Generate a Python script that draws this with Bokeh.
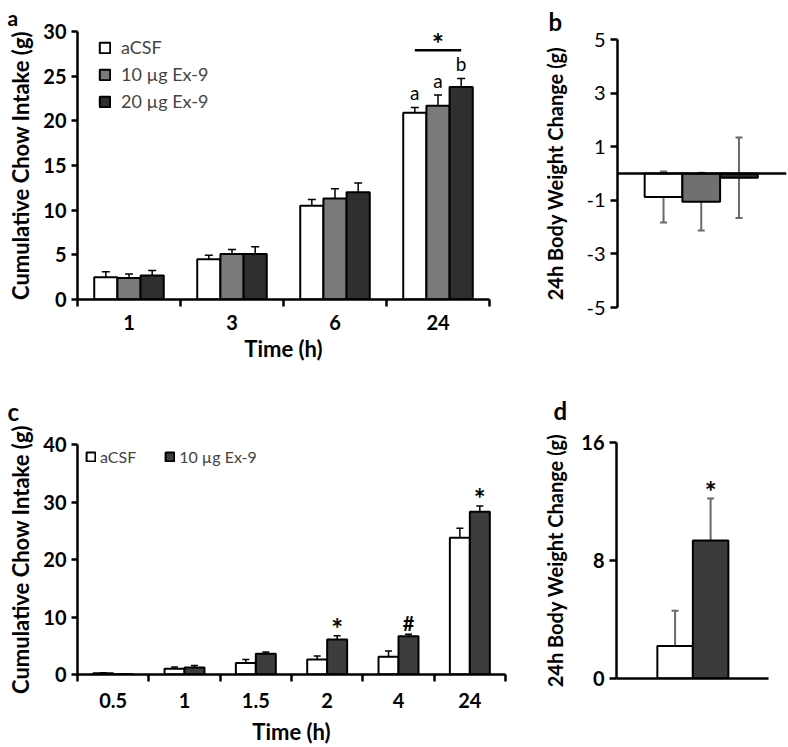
from bokeh.plotting import figure
from bokeh.layouts import column, row
from bokeh.models import (ColumnDataSource, Range1d, FixedTicker, Whisker, TeeHead,
                          Legend, LegendItem, Title, Span)
from bokeh.core.properties import value
from bokeh.embed import file_html
from bokeh.resources import INLINE

FONT = "Lato"

# ---------------- data ----------------
# Panel a
a_times = ["1", "3", "6", "24"]
a_groups = ["aCSF", "10 µg Ex-9", "20 µg Ex-9"]
a_acsf = [2.5, 4.5, 10.5, 20.9]
a_acsf_err = [0.6, 0.45, 0.7, 0.6]
a_ex10 = [2.4, 5.1, 11.3, 21.7]
a_ex10_err = [0.45, 0.5, 1.1, 1.2]
a_ex20 = [2.7, 5.1, 12.0, 23.8]
a_ex20_err = [0.55, 0.8, 1.05, 0.95]
a_letters_24 = ["a", "a", "b"]
a_sig_y = 27.9
a_yticks = [0, 5, 10, 15, 20, 25, 30]

# Panel b
b_groups = ["aCSF", "10 µg Ex-9", "20 µg Ex-9"]
b_change = [-0.88, -1.05, -0.16]
b_err = [0.95, 1.08, 1.5]
b_yticks = [-5, -3, -1, 1, 3, 5]

# Panel c
c_times = ["0.5", "1", "1.5", "2", "4", "24"]
c_groups = ["aCSF", "10 µg Ex-9"]
c_acsf = [0.2, 1.0, 2.0, 2.6, 3.1, 23.8]
c_acsf_err = [0.1, 0.3, 0.6, 0.6, 1.0, 1.65]
c_ex = [0.05, 1.2, 3.6, 6.1, 6.65, 28.3]
c_ex_err = [0.0, 0.35, 0.3, 0.65, 0.35, 1.0]
c_marks = ["", "", "", "*", "#", "*"]
c_yticks = [0, 10, 20, 30, 40]

# Panel d
d_groups = ["aCSF", "10 µg Ex-9"]
d_change = [2.2, 9.35]
d_err = [2.4, 2.85]
d_marks = ["", "*"]
d_yticks = [0, 8, 16]

# ---------------- helpers ----------------
def make_fig(fw, fh, bl, br, bt, bb, xr, yr):
    p = figure(frame_width=fw, frame_height=fh,
               min_border_left=bl, min_border_right=br,
               min_border_top=bt, min_border_bottom=bb,
               x_range=xr, y_range=yr, output_backend="svg",
               toolbar_location=None, outline_line_color=None)
    p.frame_align = False
    p.xgrid.grid_line_color = None
    p.ygrid.grid_line_color = None
    return p


def style_yaxis(ax, ticks, tick_bold=True, tick_size="20px", label_size="22px"):
    ax.ticker = FixedTicker(ticks=ticks)
    ax.major_label_overrides = {t: str(t) for t in ticks}
    ax.axis_line_width = 2.5
    ax.axis_line_color = "black"
    ax.major_tick_line_width = 2.5
    ax.major_tick_line_color = "black"
    ax.major_tick_out = 6
    ax.major_tick_in = 0
    ax.minor_tick_line_color = None
    ax.major_label_text_font = FONT
    ax.major_label_text_font_size = tick_size
    ax.major_label_text_font_style = "bold" if tick_bold else "normal"
    ax.major_label_text_color = "black"
    ax.major_label_standoff = 5
    ax.axis_label_text_font = FONT
    ax.axis_label_text_font_size = label_size
    ax.axis_label_text_font_style = "bold"
    ax.axis_label_text_color = "black"


def style_xaxis_cat(ax, n, labels, tick_size="20px", label_size="22px"):
    centers = [i + 0.5 for i in range(n)]
    bounds = [i for i in range(n + 1)]
    ax.ticker = FixedTicker(ticks=centers, minor_ticks=bounds)
    ax.major_label_overrides = {c: l for c, l in zip(centers, labels)}
    ax.axis_line_width = 2.5
    ax.axis_line_color = "black"
    ax.major_tick_line_color = None
    ax.major_tick_out = 0
    ax.major_tick_in = 0
    ax.minor_tick_line_color = "black"
    ax.minor_tick_line_width = 2.5
    ax.minor_tick_out = 7
    ax.minor_tick_in = 0
    ax.major_label_text_font = FONT
    ax.major_label_text_font_size = tick_size
    ax.major_label_text_font_style = "bold"
    ax.major_label_text_color = "black"
    ax.major_label_standoff = 8
    ax.axis_label_text_font = FONT
    ax.axis_label_text_font_size = label_size
    ax.axis_label_text_font_style = "bold"
    ax.axis_label_text_color = "black"
    ax.axis_label_standoff = 2


def panel_letter(p, text, offset, standoff, size):
    p.add_layout(Title(text=text, align="left", offset=offset, standoff=standoff,
                       vertical_align="top", text_font=FONT, text_font_style="bold",
                       text_font_size=size, text_color="black"), "above")


def whiskers(p, xs, lo, hi, color="black", lw=1.5, head=8):
    src = ColumnDataSource(dict(x=xs, lower=lo, upper=hi))
    w = Whisker(source=src, base="x", lower="lower", upper="upper", dimension="height",
                line_color=color, line_width=lw,
                upper_head=TeeHead(size=head, line_color=color, line_width=lw),
                lower_head=TeeHead(size=head, line_color=color, line_width=lw))
    p.add_layout(w)


def mark_offsets(marks):
    return [9 if m == "*" else 1 for m in marks]


def mark_sizes(marks):
    return ["28px" if m == "*" else "20px" for m in marks]

# ---------------- panel a ----------------
A_BL, A_FW, A_BR, A_BT, A_FH, A_BB = 77, 412, 51, 31, 268, 76
a_xr, a_yr = Range1d(0, len(a_times)), Range1d(0, 30)
pa = make_fig(A_FW, A_FH, A_BL, A_BR, A_BT, A_BB, a_xr, a_yr)
bw_a = 0.225
a_series = [(a_acsf, a_acsf_err, "#ffffff"), (a_ex10, a_ex10_err, "#7a7a7a"),
            (a_ex20, a_ex20_err, "#2f2f2f")]
a_rends = []
for j, (vals, errs, col) in enumerate(a_series):
    xs = [i + 0.5 + (j - 1) * bw_a for i in range(len(a_times))]
    r = pa.vbar(x=xs, top=vals, width=bw_a, bottom=0, fill_color=col,
                line_color="black", line_width=2)
    a_rends.append(r)
    whiskers(pa, xs, [v - e for v, e in zip(vals, errs)], [v + e for v, e in zip(vals, errs)])
style_yaxis(pa.yaxis[0], a_yticks)
pa.yaxis.axis_label = "Cumulative Chow Intake (g)"
pa.yaxis.axis_label_standoff = 6
style_xaxis_cat(pa.xaxis[0], len(a_times), a_times)
pa.xaxis.axis_label = "Time (h)"

# letters above 24 h bars
last = len(a_times) - 1
lx = [last + 0.5 + (j - 1) * bw_a for j in range(3)]
ly = [s[0][last] + s[1][last] for s in a_series]
pa.text(x=lx, y=ly, text=a_letters_24, text_font=value(FONT), text_font_size="19px",
        text_align="center", text_baseline="bottom", y_offset=-3, text_color="black")
# significance bar
pa.segment(x0=[lx[0]], x1=[lx[2]], y0=[a_sig_y], y1=[a_sig_y], line_color="black", line_width=2.5)
pa.text(x=[(lx[0] + lx[2]) / 2], y=[a_sig_y], text=["*"], text_font=value(FONT),
        text_font_size="28px", text_font_style="bold", text_align="center",
        text_baseline="middle", y_offset=-7, text_color="black")

legend_a = Legend(items=[LegendItem(label=g, renderers=[r]) for g, r in zip(a_groups, a_rends)],
                  location=(21, 187), glyph_width=13, glyph_height=13, label_height=13,
                  label_standoff=10, spacing=5, padding=0, margin=0,
                  label_text_font=FONT, label_text_font_size="18px",
                  border_line_color=None, background_fill_alpha=0)
pa.add_layout(legend_a)
panel_letter(pa, "a", -70, 0, "21px")

# ---------------- panel b ----------------
B_BL, B_FW, B_BR, B_BT, B_FH, B_BB = 77, 169, 2, 39, 268, 68
b_xr, b_yr = Range1d(-1.22, 3.26), Range1d(-5, 5)
pb = make_fig(B_FW, B_FH, B_BL, B_BR, B_BT, B_BB, b_xr, b_yr)
b_cols = ["#ffffff", "#707070", "#2a2a2a"]
bx = list(range(len(b_groups)))
pb.vbar(x=bx, top=0, bottom=b_change, width=1.0, fill_color=b_cols,
        line_color="black", line_width=2)
pb.add_layout(Span(location=0, dimension="width", line_color="black", line_width=2.5))
whiskers(pb, bx, [v - e for v, e in zip(b_change, b_err)], [v + e for v, e in zip(b_change, b_err)],
         color="#6a6a6a", lw=2, head=7)
style_yaxis(pb.yaxis[0], b_yticks, tick_bold=False, tick_size="20px", label_size="20px")
pb.yaxis.major_tick_out = 7
pb.yaxis.axis_label = "24h Body Weight Change (g)"
pb.yaxis.axis_label_standoff = 16
pb.xaxis.visible = False
panel_letter(pb, "b", -69, 4, "24px")

# ---------------- panel c ----------------
C_BL, C_FW, C_BR, C_BT, C_FH, C_BB = 77, 428, 35, 69, 230, 73
c_xr, c_yr = Range1d(0, len(c_times)), Range1d(0, 40)
pc = make_fig(C_FW, C_FH, C_BL, C_BR, C_BT, C_BB, c_xr, c_yr)
bw_c = 0.28
c_series = [(c_acsf, c_acsf_err, "#ffffff"), (c_ex, c_ex_err, "#3d3d3d")]
c_rends = []
for j, (vals, errs, col) in enumerate(c_series):
    xs = [i + 0.5 + (j - 0.5) * bw_c for i in range(len(c_times))]
    r = pc.vbar(x=xs, top=vals, width=bw_c, bottom=0, fill_color=col,
                line_color="black", line_width=2)
    c_rends.append(r)
    whiskers(pc, xs, [v - e for v, e in zip(vals, errs)], [v + e for v, e in zip(vals, errs)], head=7)
cx = [i + 0.5 + 0.5 * bw_c for i in range(len(c_times))]
cy = [v + e for v, e in zip(c_ex, c_ex_err)]
pc.text(x=cx, y=cy, text=c_marks, text_font=value(FONT), text_font_size=mark_sizes(c_marks),
        text_font_style="bold", text_align="center", text_baseline="bottom",
        y_offset=mark_offsets(c_marks), text_color="black")
style_yaxis(pc.yaxis[0], c_yticks)
pc.yaxis.axis_label = "Cumulative Chow Intake (g)"
pc.yaxis.axis_label_standoff = 6
style_xaxis_cat(pc.xaxis[0], len(c_times), c_times)
pc.xaxis.major_label_standoff = 11
pc.xaxis.axis_label_standoff = 7
pc.xaxis.axis_label = "Time (h)"
legend_c = Legend(items=[LegendItem(label=g, renderers=[r]) for g, r in zip(c_groups, c_rends)],
                  location=(8, 208), orientation="horizontal",
                  glyph_width=11, glyph_height=11, label_height=11,
                  label_standoff=4, spacing=28, padding=0, margin=0,
                  label_text_font=FONT, label_text_font_size="16px",
                  border_line_color=None, background_fill_alpha=0)
pc.add_layout(legend_c)
panel_letter(pc, "c", -70, 34, "24px")

# ---------------- panel d ----------------
D_BL, D_FW, D_BR, D_BT, D_FH, D_BB = 75, 152, 21, 67, 236, 69
d_xr, d_yr = Range1d(-1.65, 2.63), Range1d(0, 16)
pd_ = make_fig(D_FW, D_FH, D_BL, D_BR, D_BT, D_BB, d_xr, d_yr)
d_cols = ["#ffffff", "#3a3a3a"]
dx = list(range(len(d_groups)))
pd_.vbar(x=dx, top=d_change, bottom=0, width=1.0, fill_color=d_cols,
         line_color="black", line_width=2)
whiskers(pd_, dx, [max(0, v - e) for v, e in zip(d_change, d_err)],
         [v + e for v, e in zip(d_change, d_err)], color="#6a6a6a", lw=2, head=7)
pd_.text(x=dx, y=[v + e for v, e in zip(d_change, d_err)], text=d_marks,
         text_font=value(FONT), text_font_size=mark_sizes(d_marks), text_font_style="bold",
         text_align="center", text_baseline="bottom", y_offset=mark_offsets(d_marks),
         text_color="black")
style_yaxis(pd_.yaxis[0], d_yticks, tick_size="20px", label_size="20px")
pd_.yaxis.major_tick_out = 7
pd_.yaxis.axis_label = "24h Body Weight Change (g)"
pd_.yaxis.axis_label_standoff = 11
xa = pd_.xaxis[0]
xa.axis_line_width = 2.5
xa.axis_line_color = "black"
xa.major_tick_line_color = None
xa.minor_tick_line_color = None
xa.major_label_text_font_size = "0px"
xa.ticker = FixedTicker(ticks=[])
panel_letter(pd_, "d", -63, 32, "24px")

layout = column(row(column(pa), column(pb), spacing=0),
                row(column(pc), column(pd_), spacing=0), spacing=0)
open("out.html", "w").write(file_html(layout, INLINE))
